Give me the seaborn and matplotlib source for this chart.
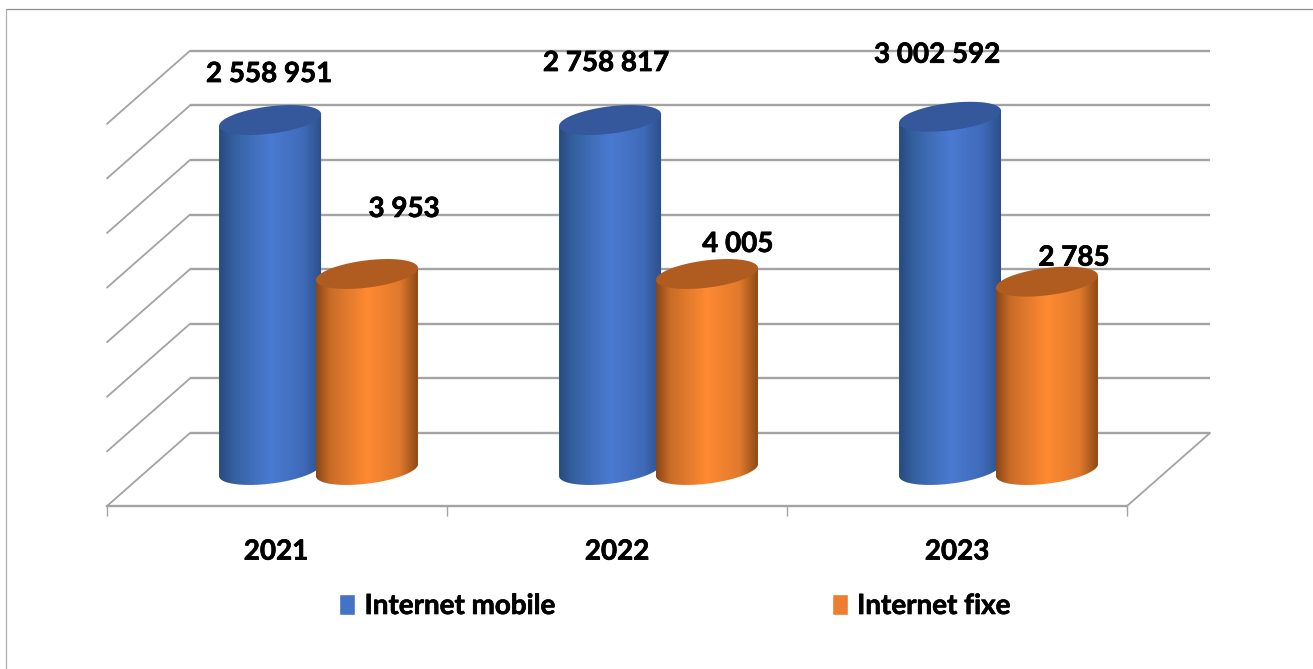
import numpy as np
import pandas as pd
import matplotlib
matplotlib.use("Agg")
import matplotlib.pyplot as plt
import matplotlib.patheffects as pe
from matplotlib.colors import LinearSegmentedColormap
from matplotlib.lines import Line2D
from matplotlib.path import Path
from matplotlib.patches import Polygon
import seaborn as sns

# ---- data ----
years = ["2021", "2022", "2023"]
series_names = ["Internet mobile", "Internet fixe"]
mobile_labels = ["2 558 951", "2 758 817", "3 002 592"]
fixe_labels = ["3 953", "4 005", "2 785"]
# drawn cylinder heights, in wall-grid intervals (the picture's heights are not proportional to the labels)
mobile_heights = [6.41, 6.41, 6.47]
fixe_heights = [3.59, 3.59, 3.45]

# ---- layout (pixels) ----
W, H = 1313, 669
PX_X, PX_Y = 340.0, 54.6        # pixels per category / per grid interval
X0_PX, Y0_PX = 318.5, 470.0     # pixel of category 0 / of the cylinders' base
DEPTH_X, DEPTH_Y = 83.0, 73.0   # floor depth
ELL_W, ELL_TILT, ELL_H = 51.0, 6.0, 13.7
N_GRID = 8
GRID_BASE = (Y0_PX - 433.0) / PX_Y
label_offsets = [[(-1, 46), (-4, 57), (-13, 62)],
                 [(37, 65), (31, 30), (27, 24)]]
palette = {"Internet mobile": "#4472C4", "Internet fixe": "#ED7D31"}
top_colors = ["#34589B", "#B05C20"]
ramps = [["#274a80", "#35609f", "#4a7bd2", "#3f6ab8", "#2c4f8a"],
         ["#8a4615", "#c96c28", "#ff8a32", "#e07a2c", "#8f4a16"]]
ramp_pos = [0.0, 0.14, 0.5, 0.82, 1.0]
GRID_C = "#A3A3A3"
FS = 20
THICK = [pe.withStroke(linewidth=0.5, foreground="black")]

sns.set_theme(style="white")
plt.rcParams["font.family"] = ["Lato", "DejaVu Sans"]
plt.rcParams["font.weight"] = "bold"

df = pd.DataFrame({
    "year": years * 2,
    "series": [series_names[0]] * 3 + [series_names[1]] * 3,
    "height": mobile_heights + fixe_heights,
})

fig = plt.figure(figsize=(W / 100, H / 100), dpi=100, facecolor="white")
ax = fig.add_axes([0, 0, 1, 1])
ax.patch.set_alpha(0)

sns.barplot(data=df, x="year", y="height", hue="series", hue_order=series_names,
            palette=palette, width=0.57, gap=-0.05, dodge=True, saturation=1,
            errorbar=None, ax=ax, zorder=3)


def dx(px):
    return px / PX_X


def dy(px):
    return px / PX_Y


def ellipse(cx, cy, t):
    return (cx + dx(ELL_W) * np.cos(t),
            cy + dy(ELL_TILT) * np.cos(t) + dy(ELL_H) * np.sin(t))


# perspective wall and floor
floor_y = dy(Y0_PX - 506.0)
left_back = dx(190 - X0_PX)
right_back = dx(1210 - X0_PX)
for k in range(N_GRID):
    lvl = GRID_BASE + k
    ax.plot([left_back, right_back], [lvl, lvl], color=GRID_C, lw=1.7, zorder=1, solid_capstyle="butt")
    ax.plot([left_back, left_back - dx(DEPTH_X)], [lvl, lvl - dy(DEPTH_Y)], color=GRID_C, lw=1.3, zorder=1)
ax.plot([right_back, right_back - dx(DEPTH_X)],
        [GRID_BASE, GRID_BASE - dy(DEPTH_Y)], color=GRID_C, lw=1.3, zorder=1)

# cylinders built over the seaborn bars
all_labels = [mobile_labels, fixe_labels]
for s, container in enumerate(ax.containers):
    cmap = LinearSegmentedColormap.from_list("c", list(zip(ramp_pos, ramps[s])))
    for b, (bar, text, off) in enumerate(zip(container, all_labels[s], label_offsets[s])):
        xc = bar.get_x() + bar.get_width() / 2
        top = bar.get_height()
        t_low = np.linspace(np.pi, 2 * np.pi, 60)
        ex, ey = ellipse(xc, 0.0, t_low)
        tlx, tly = ellipse(xc, top, np.pi)
        trx, try_ = ellipse(xc, top, 0.0)
        body = np.column_stack([np.r_[tlx, ex, trx], np.r_[tly, ey, try_]])
        clip = Path(np.vstack([body, body[0]]), closed=True)
        z = 3 + s
        bar.set_zorder(z)
        bar.set_clip_path(clip, ax.transData)
        grad = np.linspace(0, 1, 256).reshape(1, -1)
        im = ax.imshow(grad, cmap=cmap, aspect="auto", interpolation="bilinear",
                       extent=(xc - dx(ELL_W), xc + dx(ELL_W), -1, top + 1), zorder=z + 0.1)
        im.set_clip_path(clip, ax.transData)
        tx, ty = ellipse(xc, top, np.linspace(0, 2 * np.pi, 120))
        ax.add_patch(Polygon(np.column_stack([tx, ty]), closed=True, facecolor=top_colors[s],
                             edgecolor="none", zorder=z + 0.2))
        ax.annotate(text, (xc, top), xytext=(off[0] * 0.72, off[1] * 0.72),
                    textcoords="offset points", ha="center", va="center",
                    fontsize=FS, fontweight="bold", color="black", zorder=10, path_effects=THICK)

ax.set_xlim(-X0_PX / PX_X, (W - X0_PX) / PX_X)
ax.set_ylim(-(H - Y0_PX) / PX_Y, Y0_PX / PX_Y)
ax.set_xlabel("")
ax.set_ylabel("")
ax.set_yticks([])

# category axis placed on the front floor edge
for name, spine in ax.spines.items():
    spine.set_visible(name == "bottom")
sp = ax.spines["bottom"]
sp.set_position(("data", floor_y))
sp.set_color(GRID_C)
sp.set_linewidth(1.7)
edges = [dx(107 - X0_PX) + i for i in range(4)]
sp.set_bounds(edges[0], edges[-1])
ax.set_xticks(edges, labels=[""] * 4)
ax.set_xticks([dx(276 - X0_PX), dx(617 - X0_PX), dx(957 - X0_PX)], labels=years, minor=True)
ax.tick_params(axis="x", which="major", length=7.2, width=1, color=GRID_C, direction="out", bottom=True)
ax.tick_params(axis="x", which="minor", length=0, pad=23.5, labelsize=FS, labelcolor="black")
for lab in ax.get_xticklabels(minor=True):
    lab.set_path_effects(THICK)

# legend
handles, labels = ax.get_legend_handles_labels()
leg = ax.legend(handles, labels, loc="center", bbox_to_anchor=(675 / W, 1 - 606 / H), ncol=2, frameon=False,
                fontsize=FS, handlelength=0.58, handleheight=0.8, handletextpad=0.33, columnspacing=9.95,
                borderpad=0, labelcolor="black")
for t in leg.get_texts():
    t.set_path_effects(THICK)

# picture frame
fig.add_artist(Line2D([6 / W, 1], [1 - 9 / H, 1 - 9 / H], color="#8C8C8C", lw=0.9))
fig.add_artist(Line2D([6 / W, 6 / W], [0, 1 - 9 / H], color="#B0B0B0", lw=0.9))

fig.savefig("out.png", dpi=100, facecolor="white")
